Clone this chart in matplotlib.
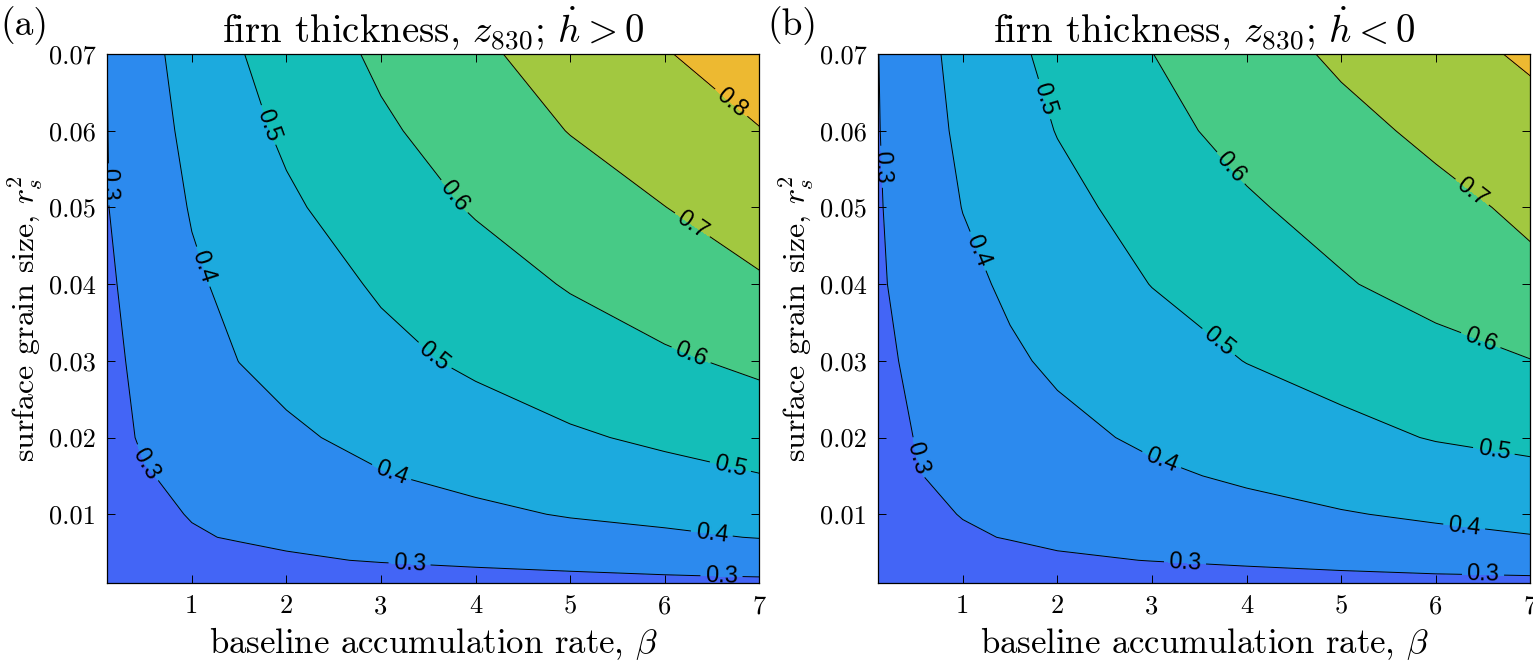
import matplotlib
matplotlib.use("Agg")
import matplotlib.pyplot as plt
import numpy as np
from matplotlib.ticker import FormatStrFormatter

plt.rcParams['font.family'] = 'serif'
plt.rcParams['font.serif'] = ['cmr10']
plt.rcParams['mathtext.fontset'] = 'cm'
plt.rcParams['axes.formatter.use_mathtext'] = True
plt.rcParams['axes.unicode_minus'] = False

# grid
beta = [0.1, 0.5, 1, 1.5, 2, 3, 4, 5, 6, 7]
r2 = [0.001, 0.002, 0.004, 0.007, 0.01, 0.015, 0.02, 0.03, 0.04, 0.05, 0.06, 0.07]

# firn thickness z830, hdot > 0 (rows: r2 ascending)
z_pos = [
    [0.140, 0.170, 0.190, 0.205, 0.220, 0.240, 0.250, 0.260, 0.270, 0.280],
    [0.160, 0.190, 0.215, 0.235, 0.250, 0.270, 0.282, 0.290, 0.298, 0.304],
    [0.190, 0.225, 0.255, 0.275, 0.290, 0.305, 0.315, 0.325, 0.333, 0.340],
    [0.220, 0.260, 0.293, 0.306, 0.315, 0.332, 0.350, 0.368, 0.386, 0.403],
    [0.240, 0.280, 0.304, 0.317, 0.330, 0.356, 0.382, 0.406, 0.420, 0.438],
    [0.260, 0.295, 0.318, 0.337, 0.356, 0.395, 0.423, 0.448, 0.474, 0.497],
    [0.270, 0.310, 0.331, 0.359, 0.386, 0.424, 0.456, 0.489, 0.515, 0.540],
    [0.283, 0.317, 0.359, 0.401, 0.425, 0.475, 0.516, 0.551, 0.585, 0.620],
    [0.288, 0.332, 0.387, 0.423, 0.453, 0.511, 0.559, 0.607, 0.654, 0.690],
    [0.297, 0.346, 0.406, 0.446, 0.486, 0.550, 0.608, 0.653, 0.699, 0.745],
    [0.298, 0.359, 0.423, 0.472, 0.515, 0.586, 0.646, 0.703, 0.750, 0.797],
    [0.299, 0.371, 0.439, 0.495, 0.538, 0.617, 0.683, 0.741, 0.795, 0.849],
]

# firn thickness z830, hdot < 0
z_neg = [
    [0.140, 0.170, 0.190, 0.205, 0.220, 0.240, 0.252, 0.262, 0.272, 0.280],
    [0.160, 0.190, 0.213, 0.232, 0.247, 0.266, 0.279, 0.289, 0.296, 0.300],
    [0.190, 0.225, 0.252, 0.272, 0.288, 0.302, 0.313, 0.322, 0.330, 0.337],
    [0.220, 0.255, 0.290, 0.304, 0.317, 0.334, 0.350, 0.365, 0.381, 0.396],
    [0.240, 0.280, 0.303, 0.315, 0.326, 0.349, 0.372, 0.395, 0.412, 0.427],
    [0.260, 0.297, 0.315, 0.333, 0.350, 0.385, 0.413, 0.435, 0.457, 0.478],
    [0.270, 0.302, 0.327, 0.351, 0.376, 0.415, 0.445, 0.475, 0.505, 0.522],
    [0.284, 0.313, 0.350, 0.387, 0.415, 0.459, 0.502, 0.534, 0.566, 0.598],
    [0.290, 0.329, 0.377, 0.415, 0.444, 0.502, 0.547, 0.592, 0.635, 0.679],
    [0.293, 0.342, 0.402, 0.438, 0.474, 0.534, 0.589, 0.633, 0.675, 0.717],
    [0.296, 0.356, 0.418, 0.461, 0.503, 0.573, 0.628, 0.674, 0.719, 0.765],
    [0.298, 0.365, 0.430, 0.481, 0.524, 0.599, 0.659, 0.715, 0.765, 0.814],
]

fill_levels = [0.0, 0.3, 0.4, 0.5, 0.6, 0.7, 0.8, 0.9]
line_levels = [0.3, 0.4, 0.5, 0.6, 0.7, 0.8]
band_colors = ['#4365F6', '#2C8AEE', '#1CAADE', '#14BEB8', '#47CA86', '#A2C840', '#EDB931']

label_pos_pos = [(0.12, 0.053), (0.45, 0.016), (3.3, 0.0030), (6.6, 0.0018),
                 (1.05, 0.042), (3.1, 0.0151), (6.5, 0.0077),
                 (1.75, 0.0605), (3.52, 0.030), (6.7, 0.0165),
                 (3.73, 0.051), (6.28, 0.0308),
                 (6.28, 0.0475), (6.7, 0.0636)]
label_pos_neg = [(0.14, 0.0553), (0.48, 0.0172), (3.35, 0.0038), (6.5, 0.0021),
                 (1.1, 0.044), (3.08, 0.0164), (6.3, 0.0083),
                 (1.83, 0.064), (3.68, 0.0321), (6.61, 0.0179),
                 (3.81, 0.0549), (6.47, 0.0325),
                 (6.36, 0.0516)]

W, H = 1533, 664
fig = plt.figure(figsize=(W / 100, H / 100), dpi=100)


def panel(rect, z, title, letter, lab_pos, letter_x):
    ax = fig.add_axes(rect)
    X, Y = np.meshgrid(beta, r2)
    Z = np.array(z)
    ax.contourf(X, Y, Z, levels=fill_levels, colors=band_colors)
    cs = ax.contour(X, Y, Z, levels=line_levels, colors='k', linewidths=0.7)
    labels = ax.clabel(cs, fmt='%g', inline=True, fontsize=17, manual=lab_pos,
                       inline_spacing=6)
    for t in labels:
        t.set_family('Liberation Sans')
    ax.set_xlim(0.1, 7)
    ax.set_ylim(0.001, 0.07)
    ax.set_xticks([1, 2, 3, 4, 5, 6, 7])
    ax.set_yticks([0.01, 0.02, 0.03, 0.04, 0.05, 0.06, 0.07])
    ax.xaxis.set_major_formatter(FormatStrFormatter('%d'))
    ax.yaxis.set_major_formatter(FormatStrFormatter('%.2f'))
    ax.tick_params(direction='in', top=True, right=True, length=6, width=0.7,
                   labelsize=19, pad=8)
    for s in ax.spines.values():
        s.set_linewidth(0.9)
    ax.set_xlabel(r'baseline accumulation rate, $\beta$', fontsize=25, labelpad=5)
    ax.set_ylabel(r'surface grain size, $r_s^2$', fontsize=23, labelpad=3)
    ax.set_title(title, fontsize=28, pad=8)
    fig.text(letter_x, 0.99, letter, fontsize=27, ha='left', va='top')
    return ax


panel([106.7 / W, 1 - 583.3 / H, 652.6 / W, 529.3 / H], z_pos,
      r'firn thickness, $z_{830}$; $\dot{h} > 0$', '(a)', label_pos_pos, 0.0)
panel([877.7 / W, 1 - 583.3 / H, 652.6 / W, 529.3 / H], z_neg,
      r'firn thickness, $z_{830}$; $\dot{h} < 0$', '(b)', label_pos_neg, 767 / W)

fig.savefig('out.png', dpi=100)
